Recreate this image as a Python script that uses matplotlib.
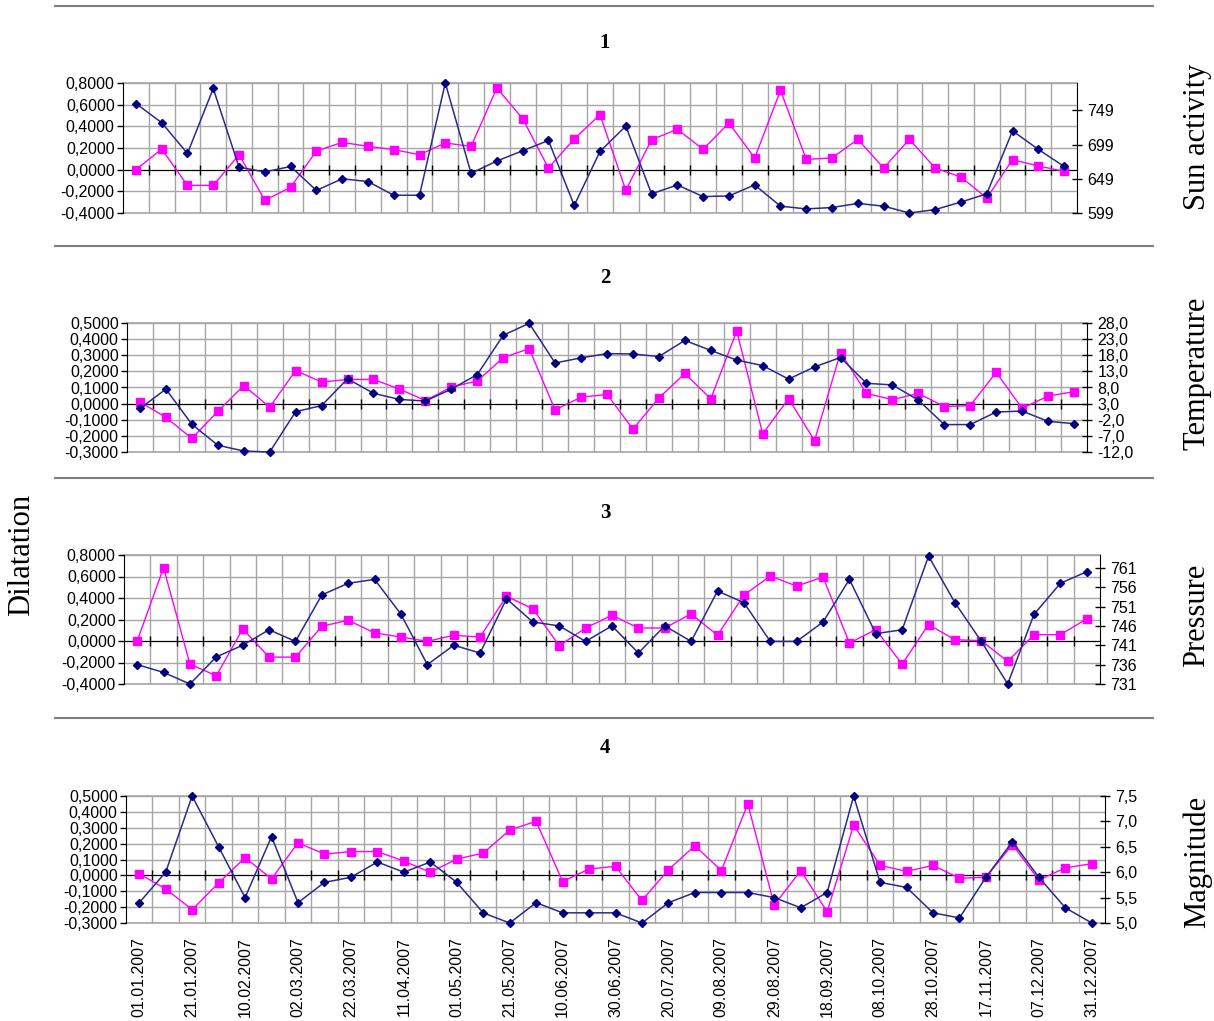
import numpy as np
import matplotlib
matplotlib.use("Agg")
import matplotlib.pyplot as plt
from matplotlib.lines import Line2D
from matplotlib.ticker import FuncFormatter

# ---- data ----
dates = ["01.01.2007", "11.01.2007", "21.01.2007", "31.01.2007", "10.02.2007",
         "20.02.2007", "02.03.2007", "12.03.2007", "22.03.2007", "01.04.2007",
         "11.04.2007", "21.04.2007", "01.05.2007", "11.05.2007", "21.05.2007",
         "31.05.2007", "10.06.2007", "20.06.2007", "30.06.2007", "10.07.2007",
         "20.07.2007", "30.07.2007", "09.08.2007", "19.08.2007", "29.08.2007",
         "08.09.2007", "18.09.2007", "28.09.2007", "08.10.2007", "18.10.2007",
         "28.10.2007", "07.11.2007", "17.11.2007", "27.11.2007", "07.12.2007",
         "17.12.2007", "31.12.2007"]

# dilatation (pink, left axis)
dil_1 = [0.0, 0.19, -0.145, -0.145, 0.138, -0.283, -0.163, 0.172, 0.252, 0.215,
         0.185, 0.138, 0.246, 0.215, 0.754, 0.471, 0.015, 0.283, 0.508, -0.19,
         0.277, 0.372, 0.188, 0.431, 0.108, 0.732, 0.095, 0.108, 0.28, 0.015,
         0.28, 0.015, -0.068, -0.262, 0.092, 0.034, -0.015]
dil_2 = [0.01, -0.085, -0.216, -0.048, 0.112, -0.022, 0.205, 0.134, 0.15, 0.15,
         0.09, 0.019, 0.103, 0.14, 0.285, 0.341, -0.039, 0.04, 0.057, -0.158,
         0.035, 0.187, 0.03, 0.45, -0.187, 0.03, -0.229, 0.317, 0.063, 0.025,
         0.063, -0.018, -0.012, 0.194, -0.029, 0.047, 0.074]
dil_3 = [0.0, 0.682, -0.215, -0.324, 0.112, -0.15, -0.15, 0.137, 0.193, 0.075,
         0.037, -0.003, 0.053, 0.037, 0.417, 0.299, -0.044, 0.121, 0.24, 0.121,
         0.121, 0.252, 0.053, 0.427, 0.604, 0.511, 0.595, -0.019, 0.106, -0.215,
         0.153, 0.012, 0.003, -0.19, 0.059, 0.059, 0.206]

# factors (blue, right axis)
sun = [759, 731, 686, 781, 666, 659, 667, 632, 649, 645, 625, 625, 789, 657,
       675, 690, 705, 610, 689, 726, 627, 640, 623, 624, 640, 609, 605, 607,
       613, 609, 599, 604, 615, 627, 719, 692, 667]
temp = [1.5, 7.5, -3.4, -9.9, -11.7, -12.0, 0.5, 2.4, 10.7, 6.2, 4.3, 3.8, 7.5,
        12.0, 24.2, 27.9, 15.6, 17.2, 18.5, 18.4, 17.6, 22.6, 19.5, 16.5, 14.8,
        10.6, 14.4, 17.3, 9.3, 8.8, 4.1, -3.5, -3.5, 0.4, 0.7, -2.5, -3.2]
press = [736, 734, 731, 738, 741, 745, 742, 754, 757, 758, 749, 736, 741, 739,
         753, 747, 746, 742, 746, 739, 746, 742, 755, 752, 742, 742, 747, 758,
         744, 745, 764, 752, 742, 731, 749, 757, 760]
mag = [5.4, 6.0, 7.5, 6.5, 5.5, 6.7, 5.4, 5.8, 5.9, 6.2, 6.0, 6.2, 5.8, 5.2,
       5.0, 5.4, 5.2, 5.2, 5.2, 5.0, 5.4, 5.6, 5.6, 5.6, 5.5, 5.3, 5.6, 7.5,
       5.8, 5.7, 5.2, 5.1, 5.9, 6.6, 5.9, 5.3, 5.0]

names = ["Sun activity", "Temperature", "Pressure", "Magnitude"]

W, H = 1214, 1021
fig = plt.figure(figsize=(W / 100, H / 100), dpi=100)

SANS = "Liberation Sans"
SERIF = "Liberation Serif"
GRID = "#a6a6a6"
PINK = "#ff00ff"
NAVY = "#000080"

def left_fmt(v, pos):
    return ("%.4f" % v).replace(".", ",")

def make_fmt(dec):
    def f(v, pos):
        return ("%.*f" % (dec, v)).replace(".", ",")
    return FuncFormatter(f)

# (left, right, top, bottom) in pixels
boxes = [(123, 1077, 83, 213), (127, 1087, 323, 452),
         (124, 1100, 555, 684), (126, 1105, 796, 923)]
# (low, high, number of intervals)
left_lims = [(-0.4, 0.8, 6), (-0.3, 0.5, 8), (-0.4, 0.8, 6), (-0.3, 0.5, 8)]
right_lims = [(599, 789), (-12, 28), (731, 764.3), (5.0, 7.5)]
right_ticks = [[599, 649, 699, 749], np.linspace(-12, 28, 9),
               np.linspace(731, 761, 7), np.linspace(5.0, 7.5, 6)]
right_dec = [0, 1, 0, 1]
dils = [dil_1, dil_2, dil_3, dil_2]
factors = [sun, temp, press, mag]
title_y = [43, 278, 513, 748]
name_y = [137, 373, 615, 862]

x = np.arange(len(dates))

for k in range(4):
    l, r, t, b = boxes[k]
    ax = fig.add_axes([l / W, 1 - b / H, (r - l) / W, (b - t) / H])
    ax2 = ax.twinx()

    lo, hi, n = left_lims[k]
    ax.set_ylim(lo, hi)
    ax.set_yticks(np.linspace(lo, hi, n + 1))
    ax.yaxis.set_major_formatter(FuncFormatter(left_fmt))
    ax.set_xlim(-0.5, len(dates) - 0.5)
    ax.set_xticks(np.arange(0.5, len(dates) - 1, 1))
    ax.set_xticklabels([])
    ax.tick_params(axis="x", direction="inout", length=7, width=1, color="black")
    ax.tick_params(axis="y", direction="out", length=4, width=1, pad=2,
                   labelsize=11.5, color="black")
    for lab in ax.get_yticklabels():
        lab.set_family(SANS)
    ax.spines["bottom"].set_position(("data", 0))
    ax.spines["top"].set_visible(False)
    ax.spines["right"].set_visible(False)
    ax.set_axisbelow(True)
    ax.grid(True, color=GRID, lw=1)
    # edge gridlines (top and bottom of the plot area)
    for edge in (lo, hi):
        ax.axhline(edge, color=GRID, lw=1.2, clip_on=False, zorder=0.5)

    ax.plot(x, dils[k], color=PINK, lw=1, marker="s", ms=5.5,
            mfc=PINK, mec=PINK, zorder=3, clip_on=False)

    ax2.set_ylim(*right_lims[k])
    ax2.set_yticks(right_ticks[k])
    ax2.yaxis.set_major_formatter(make_fmt(right_dec[k]))
    ax2.tick_params(axis="y", direction="inout", length=7, width=1, pad=4,
                    labelsize=11.5, color="black")
    for lab in ax2.get_yticklabels():
        lab.set_family(SANS)
    for s in ["top", "bottom", "left"]:
        ax2.spines[s].set_visible(False)
    ax2.plot(x, factors[k], color="#2b2b8c", lw=1.1, marker="D", ms=4.5,
             mfc=NAVY, mec=NAVY, zorder=3, clip_on=False)

    if k == 3:
        sec = ax.secondary_xaxis("bottom")
        sec.set_xticks(x[::2], labels=dates[::2])
        sec.tick_params(length=0, pad=10, labelsize=11.5, labelrotation=90)
        for lab in sec.get_xticklabels():
            lab.set_family(SANS)
        sec.spines["bottom"].set_visible(False)

    fig.text(605 / W, 1 - title_y[k] / H, str(k + 1), family=SERIF,
             weight="bold", size=15, ha="center", va="center")
    fig.text(1197 / W, 1 - name_y[k] / H, names[k], family=SERIF, size=22,
             rotation=90, ha="center", va="center")

fig.text(22 / W, 1 - 555 / H, "Dilatation", family=SERIF, size=22,
         rotation=90, ha="center", va="center")

for yy in [6, 246, 478, 718]:
    fig.add_artist(Line2D([55 / W, 1153 / W], [1 - yy / H, 1 - yy / H],
                          transform=fig.transFigure, color="#808080", lw=1.5))

fig.savefig("out.png", dpi=100)
